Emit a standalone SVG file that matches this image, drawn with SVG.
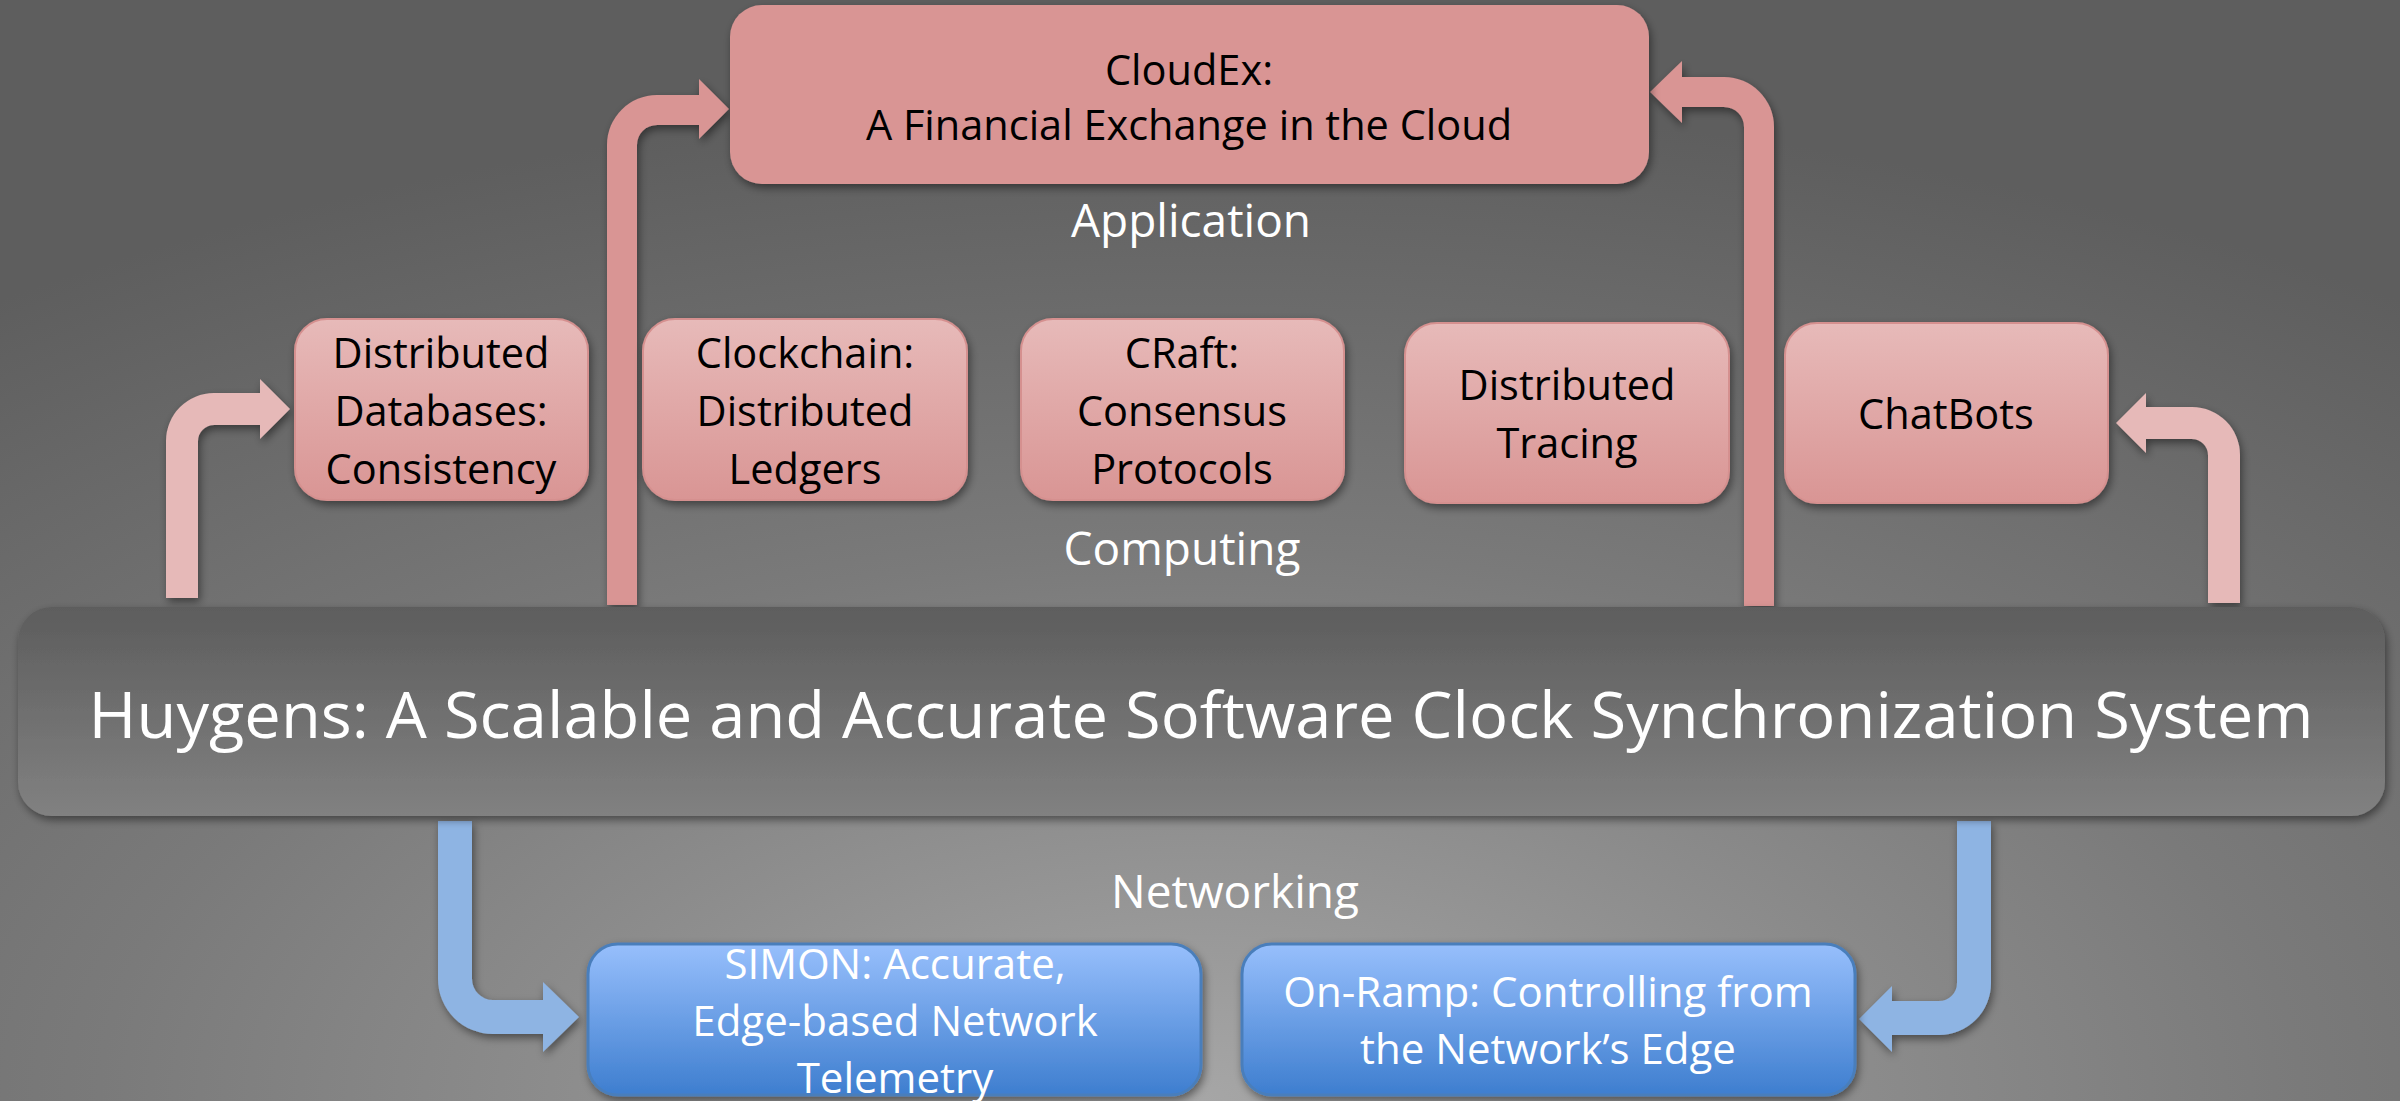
<svg xmlns="http://www.w3.org/2000/svg" width="2400" height="1101" viewBox="0 0 2400 1101">
  <defs>
    <radialGradient id="bg" gradientUnits="userSpaceOnUse" cx="1200" cy="1100" r="1000" gradientTransform="translate(1200 1100) scale(2 1) translate(-1200 -1100)">
      <stop offset="0" stop-color="#a6a6a6"/>
      <stop offset="0.55" stop-color="#7a7a7a"/>
      <stop offset="1" stop-color="#5e5e5e"/>
    </radialGradient>
    <linearGradient id="gPink" x1="0" y1="0" x2="0" y2="1">
      <stop offset="0" stop-color="#e7bab9"/>
      <stop offset="1" stop-color="#d99594"/>
    </linearGradient>
    <linearGradient id="gBlue" x1="0" y1="0" x2="0" y2="1">
      <stop offset="0" stop-color="#97bffc"/>
      <stop offset="1" stop-color="#3e7ecf"/>
    </linearGradient>
    <linearGradient id="gBar" x1="0" y1="0" x2="0" y2="1">
      <stop offset="0" stop-color="#5d5d5d"/>
      <stop offset="1" stop-color="#818181"/>
    </linearGradient>
    <filter id="sh" x="-10%" y="-10%" width="120%" height="130%">
      <feDropShadow dx="2" dy="4" stdDeviation="4" flood-color="#000" flood-opacity="0.45"/>
    </filter>
  </defs>
  <style>
    .lbl { font-family: "Open Sans", "Noto Sans", sans-serif; font-size: 46px; fill: #ffffff; text-anchor: middle; }
    .pt { font-family: "Open Sans", "Noto Sans", sans-serif; font-size: 41.5px; fill: #000000; text-anchor: middle; }
    .bt { font-family: "Open Sans", "Noto Sans", sans-serif; font-size: 42px; fill: #ffffff; text-anchor: middle; }
    .title { font-family: "Open Sans", "Noto Sans", sans-serif; font-size: 64px; fill: #ffffff; text-anchor: middle; }
    .pbox { fill: url(#gPink); stroke: #d5908f; stroke-width: 2; filter: url(#sh); }
    .bbox { fill: url(#gBlue); stroke: #4a7ebb; stroke-width: 3; filter: url(#sh); }
    .arLight { fill: #e6b9b8; filter: url(#sh); }
    .arDark { fill: #d99594; filter: url(#sh); }
    .arBlue { fill: #8eb4e3; filter: url(#sh); }
  </style>

  <rect x="0" y="0" width="2400" height="1101" fill="url(#bg)"/>

  <g id="connectors">
    <path class="arLight" d="M166,598 L166,441 A48,48 0 0 1 214,393 L260,393 L260,379 L290,409 L260,439 L260,425 L214,425 A16,16 0 0 0 198,441 L198,598 Z"/>
    <path class="arDark" d="M607,605 L607,145 A50,50 0 0 1 657,95 L699,95 L699,79 L729,109 L699,139 L699,125 L657,125 A20,20 0 0 0 637,145 L637,605 Z"/>
    <path class="arDark" d="M1774,606 L1774,127 A50,50 0 0 0 1724,77 L1682,77 L1682,61 L1650,92 L1682,123 L1682,107 L1724,107 A20,20 0 0 1 1744,127 L1744,606 Z"/>
    <path class="arLight" d="M2240,603 L2240,455 A48,48 0 0 0 2192,407 L2146,407 L2146,393 L2116,423 L2146,453 L2146,439 L2192,439 A16,16 0 0 1 2208,455 L2208,603 Z"/>
    <path class="arBlue" d="M438,821 L438,979 A55,55 0 0 0 493,1034 L543,1034 L543,1052 L579,1017 L543,982 L543,1000 L493,1000 A21,21 0 0 1 472,979 L472,821 Z"/>
    <path class="arBlue" d="M1991,821 L1991,983 A52,52 0 0 1 1939,1035 L1892,1035 L1892,1052 L1859,1019 L1892,986 L1892,1001 L1939,1001 A18,18 0 0 0 1957,983 L1957,821 Z"/>
  </g>

  <g id="cloudex">
    <rect x="730" y="5" width="919" height="179" rx="32" fill="#d99594" filter="url(#sh)"/>
    <text class="pt" x="1189" y="85">CloudEx:</text>
    <text class="pt" x="1189" y="140">A Financial Exchange in the Cloud</text>
  </g>
  <text class="lbl" x="1191" y="237">Application</text>

  <g id="databases">
    <rect class="pbox" x="295" y="319" width="293" height="181" rx="32"/>
    <text class="pt" x="441" y="368">Distributed</text>
    <text class="pt" x="441" y="426">Databases:</text>
    <text class="pt" x="441" y="484">Consistency</text>
  </g>
  <g id="clockchain">
    <rect class="pbox" x="643" y="319" width="324" height="181" rx="32"/>
    <text class="pt" x="805" y="368">Clockchain:</text>
    <text class="pt" x="805" y="426">Distributed</text>
    <text class="pt" x="805" y="484">Ledgers</text>
  </g>
  <g id="craft">
    <rect class="pbox" x="1021" y="319" width="323" height="181" rx="32"/>
    <text class="pt" x="1182" y="368">CRaft:</text>
    <text class="pt" x="1182" y="426">Consensus</text>
    <text class="pt" x="1182" y="484">Protocols</text>
  </g>
  <g id="tracing">
    <rect class="pbox" x="1405" y="323" width="324" height="180" rx="32"/>
    <text class="pt" x="1567" y="400">Distributed</text>
    <text class="pt" x="1567" y="458">Tracing</text>
  </g>
  <g id="chatbots">
    <rect class="pbox" x="1785" y="323" width="323" height="180" rx="32"/>
    <text class="pt" x="1946" y="429">ChatBots</text>
  </g>
  <text class="lbl" x="1182" y="565">Computing</text>

  <g id="huygens">
    <rect x="18" y="607" width="2367" height="209" rx="34" fill="url(#gBar)" filter="url(#sh)"/>
    <text class="title" x="1201" y="738" textLength="2225" lengthAdjust="spacingAndGlyphs">Huygens: A Scalable and Accurate Software Clock Synchronization System</text>
  </g>

  <text class="lbl" x="1235" y="908">Networking</text>

  <g id="simon">
    <rect class="bbox" x="588" y="944" width="613" height="151" rx="30"/>
    <text class="bt" x="895" y="979">SIMON: Accurate,</text>
    <text class="bt" x="895" y="1036">Edge-based Network</text>
    <text class="bt" x="895" y="1093">Telemetry</text>
  </g>
  <g id="onramp">
    <rect class="bbox" x="1242" y="944" width="613" height="151" rx="30"/>
    <text class="bt" x="1548" y="1007">On-Ramp: Controlling from</text>
    <text class="bt" x="1548" y="1064">the Network’s Edge</text>
  </g>
</svg>
